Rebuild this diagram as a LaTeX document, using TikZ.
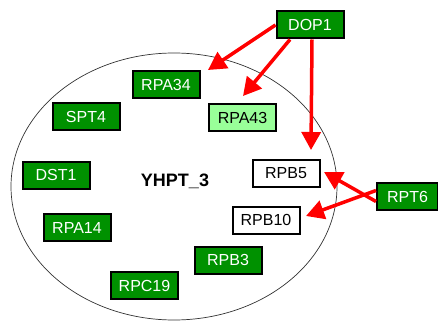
\documentclass[tikz,border=0pt]{standalone}
\usepackage{fontspec}
\setmainfont{Liberation Sans}
\usetikzlibrary{arrows.meta}
\definecolor{dg}{RGB}{0,145,0}
\definecolor{lg}{RGB}{153,255,153}
\definecolor{ar}{RGB}{255,0,0}
\begin{document}
\begin{tikzpicture}[x=1pt,y=-1pt,
  box/.style={draw=black,line width=2pt,minimum width=67pt,minimum height=27pt,inner sep=0pt,font=\fontsize{16}{19}\selectfont},
  gbox/.style={box,fill=dg,text=white},
  lbox/.style={box,fill=lg,text=black},
  wbox/.style={box,fill=white,text=black},
  arr/.style={draw=ar,line width=3.5pt,-{Triangle[length=18pt,width=19pt]}}]
\useasboundingbox (0,0) rectangle (438,323);
\draw[line width=0.7pt,black!80] (174,186.5) ellipse [x radius=163, y radius=133.5];
\node[font=\bfseries\fontsize{18}{21}\selectfont] (lbl) at (175,181) {YHPT\_3};
\node[gbox] (DOP1) at (310,25) {DOP1};
\node[gbox] (RPA34) at (166,85) {RPA34};
\node[gbox] (SPT4) at (86,116.5) {SPT4};
\node[lbox] (RPA43) at (242.5,118) {RPA43};
\node[gbox] (DST1) at (56,175) {DST1};
\node[wbox] (RPB5) at (286,173) {RPB5};
\node[gbox,minimum width=61pt] (RPT6) at (407.5,196.5) {RPT6};
\node[wbox] (RPB10) at (266,220) {RPB10};
\node[gbox] (RPA14) at (77,227.5) {RPA14};
\node[gbox] (RPB3) at (228,260) {RPB3};
\node[gbox] (RPC19) at (144.5,285.5) {RPC19};
\coordinate (t1) at (208,70);
\coordinate (t2) at (243,96);
\coordinate (t3) at (311,150);
\coordinate (t4) at (324,172);
\coordinate (t5) at (306,216);
\draw[arr] (DOP1.west) -- (t1);
\draw[arr] ([xshift=-20pt]DOP1.south) -- (t2);
\draw[arr] ([xshift=2pt]DOP1.south) -- (t3);
\draw[arr] ([yshift=-5pt]RPT6.west) -- (t4);
\draw[arr] ([yshift=6pt]RPT6.west) -- (t5);
\end{tikzpicture}
\end{document}
